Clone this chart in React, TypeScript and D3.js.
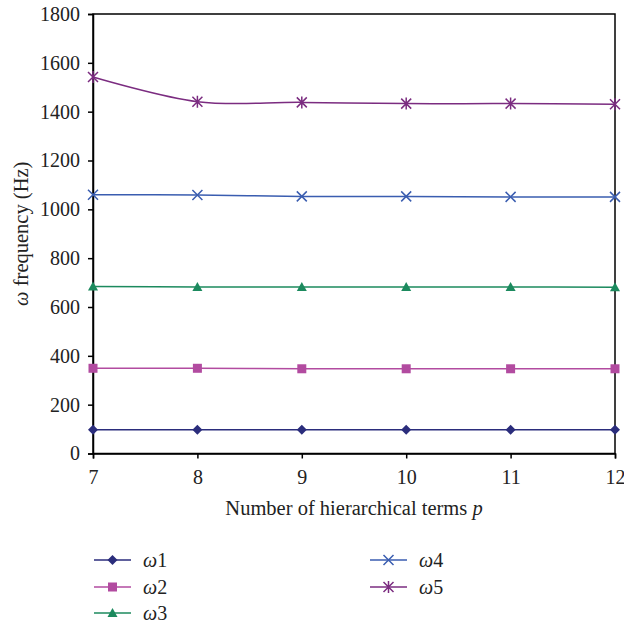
import React, { useEffect, useRef } from 'react';
import * as d3 from 'd3';

const terms = [7, 8, 9, 10, 11, 12];
const omega1 = [97, 97, 97, 97, 97, 97];
const omega2 = [349, 349, 347, 347, 347, 347];
const omega3 = [684, 682, 682, 682, 682, 681];
const omega4 = [1060, 1059, 1053, 1053, 1051, 1051];
const omega5 = [1542, 1441, 1438, 1433, 1433, 1430];
const yTicks = [0, 200, 400, 600, 800, 1000, 1200, 1400, 1600, 1800];

const series = [
  { label: '1', values: omega1, color: '#2b2d7c', marker: 'diamond' },
  { label: '2', values: omega2, color: '#b24ba0', marker: 'square' },
  { label: '3', values: omega3, color: '#1c8a5e', marker: 'triangle' },
  { label: '4', values: omega4, color: '#3a5db0', marker: 'x' },
  { label: '5', values: omega5, color: '#7b2c80', marker: 'star' },
];

const FONT = '"Liberation Serif", "DejaVu Serif", serif';

function drawMarker(g, type, color) {
  if (type === 'diamond') {
    g.append('path').attr('d', 'M0,-5L5,0L0,5L-5,0Z').attr('fill', color);
  } else if (type === 'square') {
    g.append('rect').attr('x', -4.5).attr('y', -4.5).attr('width', 9).attr('height', 9).attr('fill', color);
  } else if (type === 'triangle') {
    g.append('path').attr('d', 'M0,-5L5,4L-5,4Z').attr('fill', color);
  } else if (type === 'x') {
    g.append('path').attr('d', 'M-5,-5L5,5M-5,5L5,-5').attr('stroke', color).attr('stroke-width', 1.5);
  } else {
    g.append('path')
      .attr('d', 'M-5,-5L5,5M-5,5L5,-5M0,-6L0,6')
      .attr('stroke', color)
      .attr('stroke-width', 1.5);
  }
}

export default function App() {
  const ref = useRef(null);

  useEffect(() => {
    document.body.style.margin = '0';
    document.body.style.overflow = 'hidden';

    const root = d3.select(ref.current);
    root.selectAll('*').remove();

    const svg = root
      .append('svg')
      .attr('width', 624)
      .attr('height', 623)
      .style('display', 'block')
      .style('font-family', FONT);

    const left = 93;
    const right = 615;
    const top = 14;
    const bottom = 453.5;

    const x = d3.scaleLinear().domain([7, 12]).range([left, right]);
    const y = d3.scaleLinear().domain([0, 1800]).range([bottom, top]);

    // frame
    svg
      .append('rect')
      .attr('x', left)
      .attr('y', top)
      .attr('width', right - left)
      .attr('height', bottom - top)
      .attr('fill', 'none')
      .attr('stroke', '#000')
      .attr('stroke-width', 1.5);

    const yAxis = svg
      .append('g')
      .attr('transform', `translate(${left},0)`)
      .call(d3.axisLeft(y).tickValues(yTicks).tickSize(5).tickPadding(8).tickFormat(d3.format('d')));
    const xAxis = svg
      .append('g')
      .attr('transform', `translate(0,${bottom})`)
      .call(d3.axisBottom(x).tickValues(terms).tickSize(5).tickPadding(11).tickFormat(d3.format('d')));

    [yAxis, xAxis].forEach((a) => {
      a.select('.domain').attr('stroke', '#000').attr('stroke-width', 1.5);
      a.selectAll('.tick line').attr('stroke', '#000').attr('stroke-width', 1.5);
      a.selectAll('.tick text')
        .attr('fill', '#222')
        .style('font-family', FONT)
        .style('font-size', '20px');
    });

    const line = d3
      .line()
      .x((d, i) => x(terms[i]))
      .y((d) => y(d))
      .curve(d3.curveCardinal.tension(0));

    series.forEach((s) => {
      svg
        .append('path')
        .datum(s.values)
        .attr('fill', 'none')
        .attr('stroke', s.color)
        .attr('stroke-width', 1.5)
        .attr('d', line);

      s.values.forEach((v, i) => {
        const g = svg.append('g').attr('transform', `translate(${x(terms[i])},${y(v)})`);
        drawMarker(g, s.marker, s.color);
      });
    });

    // axis titles
    const xt = svg
      .append('text')
      .attr('x', (left + right) / 2)
      .attr('y', 515)
      .attr('text-anchor', 'middle')
      .style('font-size', '20.5px')
      .attr('fill', '#222');
    xt.append('tspan').text('Number of hierarchical terms ');
    xt.append('tspan').style('font-style', 'italic').text('p');

    const yt = svg
      .append('text')
      .attr('transform', `translate(28,${(top + bottom) / 2}) rotate(-90)`)
      .attr('text-anchor', 'middle')
      .style('font-size', '20.5px')
      .attr('fill', '#222');
    yt.append('tspan').style('font-style', 'italic').text('ω');
    yt.append('tspan').text(' frequency (Hz)');

    // legend
    const legendPos = [
      [94, 560],
      [94, 587],
      [94, 613],
      [370, 560],
      [370, 587],
    ];
    series.forEach((s, i) => {
      const [lx, ly] = legendPos[i];
      const g = svg.append('g').attr('transform', `translate(${lx},${ly})`);
      g.append('line').attr('x1', 0).attr('x2', 37).attr('stroke', s.color).attr('stroke-width', 1.5);
      drawMarker(g.append('g').attr('transform', 'translate(18.5,0)'), s.marker, s.color);
      const t = g
        .append('text')
        .attr('x', 49)
        .attr('dy', '0.35em')
        .style('font-size', '20px')
        .attr('fill', '#222');
      t.append('tspan').style('font-style', 'italic').text('ω');
      t.append('tspan').text(s.label);
    });

    return () => {
      root.selectAll('*').remove();
    };
  }, []);

  return <div ref={ref}></div>;
}
